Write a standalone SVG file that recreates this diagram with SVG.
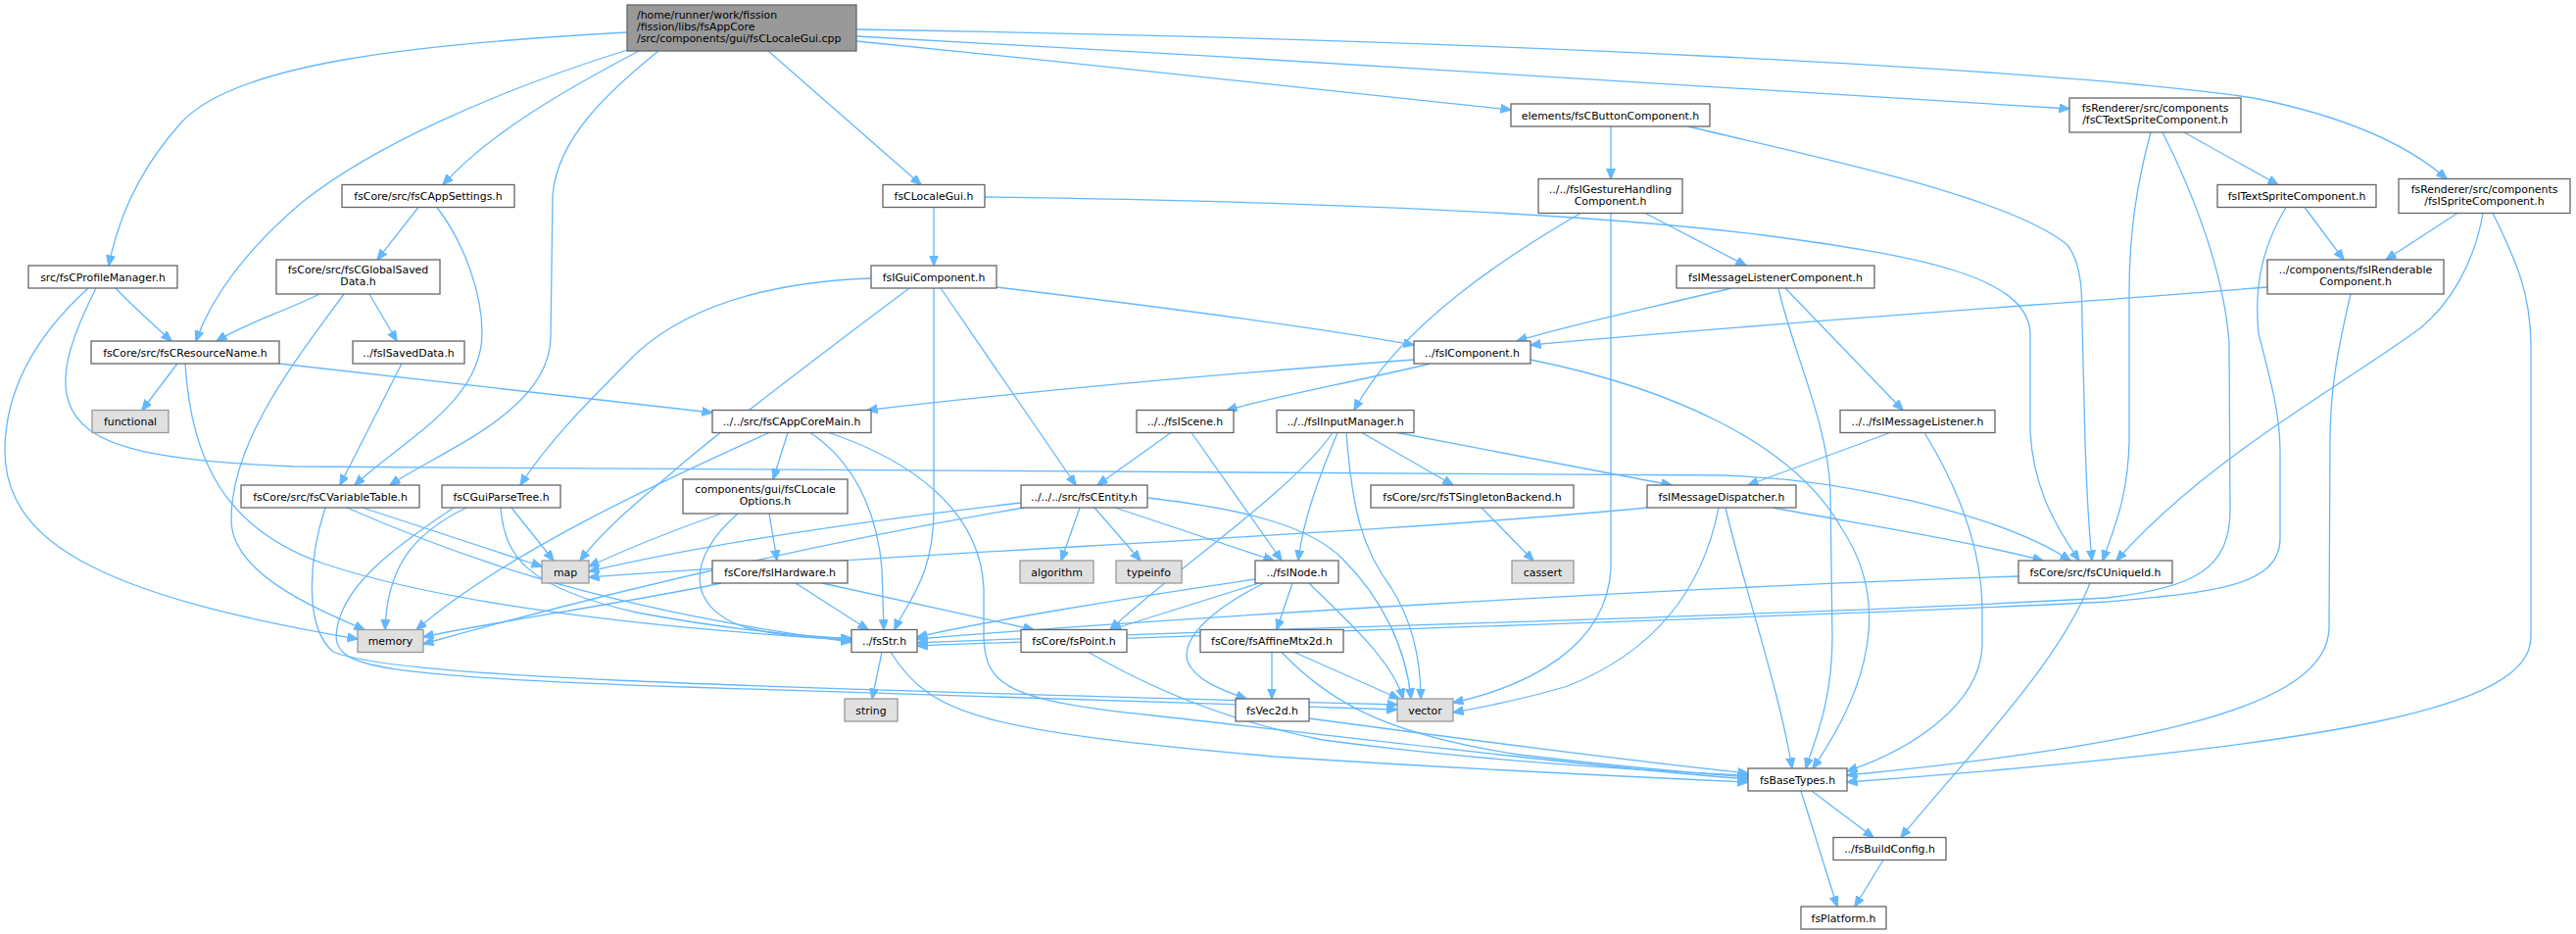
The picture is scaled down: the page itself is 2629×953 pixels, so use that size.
<svg xmlns="http://www.w3.org/2000/svg" width="2629" height="953" viewBox="0 0 2629 953">
<style>
rect{fill:#fff;stroke:#666;stroke-width:1.3}
.g rect{fill:#e0e0e0;stroke:#999}
.r rect{fill:#999;stroke:#666}
rect.bg{fill:#fff;stroke:none}
text{font-family:"DejaVu Sans","Liberation Sans",sans-serif;font-size:10.9px;fill:#000;text-anchor:middle}
.r text{text-anchor:start}
.e path{fill:none;stroke:#63b8ff;stroke-width:1.3;marker-end:url(#a)}
</style>
<defs>
<marker id="a" markerWidth="12" markerHeight="10" refX="10.5" refY="4.5" orient="auto" markerUnits="userSpaceOnUse"><path d="M0,0 L11,4.5 L0,9 z" fill="#63b8ff" stroke="#63b8ff" stroke-width="1"/></marker>
</defs>
<rect class="bg" x="0" y="0" width="2629" height="953"/>
<g class="e" id="edges">
<path d="M640,33 C420,45 240,65 185,125 C140,175 120,225 111,271"/>
<path d="M640,51 C500,95 380,150 310,205 C250,255 215,305 200,348"/>
<path d="M652,52 C580,90 500,135 452,188.5"/>
<path d="M672,52 C625,90 568,140 564,200 L562,345 C560,420 450,460 398,495"/>
<path d="M784,52 L940,188.5"/>
<path d="M874,42 C1100,65 1350,90 1542,112"/>
<path d="M874,37 C1300,60 1800,90 2112,111"/>
<path d="M874,30 C1500,40 2100,70 2300,100 C2400,120 2460,150 2497,182.5"/>
<path d="M427,211.5 L385,265"/>
<path d="M446,211.5 C475,250 492,300 492,340 C492,410 410,450 362,495"/>
<path d="M326,300 C290,318 250,330 221,348"/>
<path d="M351,300 C300,370 236,450 236,530 C236,585 320,620 372,642.5"/>
<path d="M377,300 L405,348"/>
<path d="M410,371 L347,495"/>
<path d="M118,294 C135,312 155,330 175,348"/>
<path d="M90,294 C45,335 5,390 5,460 C5,560 120,610 365,652"/>
<path d="M98,294 C75,340 60,380 70,410 C85,455 150,470 300,476 L1760,485 C1900,490 2050,530 2113,572"/>
<path d="M181,371 L145,418.5"/>
<path d="M285,371 L727,421"/>
<path d="M189,371 C195,470 230,540 330,575 C450,615 650,640 869,653"/>
<path d="M953,211.5 L953,271"/>
<path d="M1005,201 C1300,205 1600,215 1800,240 C1950,260 2070,280 2072,340 L2072,440 C2075,500 2100,540 2122,572"/>
<path d="M889,284 C780,288 700,315 650,360 C600,410 560,450 531,495"/>
<path d="M928,294 C880,330 760,420 700,470 C660,505 620,535 592,572"/>
<path d="M953,294 L953,520 C953,590 925,615 913,642.5"/>
<path d="M960,294 L1098,495"/>
<path d="M1017,293 C1200,315 1350,335 1443,352"/>
<path d="M1644,129 L1644,182.5"/>
<path d="M1723,129 C1850,160 2050,200 2110,250 C2125,270 2125,300 2125,330 L2128,450 C2130,520 2133,550 2135,572"/>
<path d="M1613,217.5 C1540,260 1430,330 1382,418.5"/>
<path d="M1644,217.5 L1644,580 C1640,660 1560,700 1483,717"/>
<path d="M1679,217.5 L1782,271"/>
<path d="M1767,294 C1680,315 1600,332 1548,348"/>
<path d="M1815,294 C1830,360 1865,430 1868,500 L1870,650 C1870,720 1850,760 1843,784"/>
<path d="M1822,294 L1942,418.5"/>
<path d="M2229,135 L2325,188.5"/>
<path d="M2195,135 C2180,190 2173,240 2173,300 L2173,450 C2172,510 2155,545 2146,572"/>
<path d="M2207,135 C2240,200 2270,280 2275,350 L2276,520 C2276,580 2240,600 2150,610 C1800,630 1300,640 936,656"/>
<path d="M2508,217.5 L2435,265"/>
<path d="M2534,217.5 C2525,270 2500,310 2470,335 C2380,400 2250,470 2160,572"/>
<path d="M2544,217.5 C2570,270 2582,300 2583,350 L2583,650 C2583,720 2400,760 1885,798"/>
<path d="M2352,211.5 L2392,265"/>
<path d="M2333,211.5 C2310,250 2300,290 2305,340 C2315,380 2327,420 2327,460 L2327,550 C2327,600 2250,605 2150,614 C1800,632 1300,645 936,659"/>
<path d="M2314,293 C2100,310 1800,330 1562,352"/>
<path d="M2399,300 C2385,360 2378,400 2378,450 L2377,640 C2377,720 2200,760 1885,791"/>
<path d="M1443,367 C1200,385 1000,405 885,418.5"/>
<path d="M1460,371 C1380,390 1300,405 1252,418.5"/>
<path d="M1562,367 C1700,395 1830,450 1880,540 C1920,600 1922,680 1850,784"/>
<path d="M804,441.5 L789,489"/>
<path d="M827,441.5 C870,470 895,520 900,580 L902,642.5"/>
<path d="M846,441.5 C930,470 1000,520 1004,600 L1004,650 C1005,700 1030,715 1176,730 C1400,755 1650,785 1784,795"/>
<path d="M785,441.5 C700,480 520,560 425,642.5"/>
<path d="M736,524 C690,540 640,560 601,578"/>
<path d="M753,524 C700,570 700,620 760,640 C800,650 840,652 869,651"/>
<path d="M785,524 L793,572"/>
<path d="M736,595 C640,615 500,635 432,650"/>
<path d="M812,595 L886,642.5"/>
<path d="M839,595 L1055,642.5"/>
<path d="M370,518 L553,578"/>
<path d="M354,518 C450,560 600,620 869,655"/>
<path d="M332,518 C315,570 310,640 340,665 C400,690 700,700 1426,719"/>
<path d="M463,518 C400,560 345,600 343,650 C345,680 380,690 700,701 L1426,724"/>
<path d="M522,518 L565,572"/>
<path d="M476,518 C420,545 395,580 393,642.5"/>
<path d="M511,518 C515,570 540,600 650,625 C730,640 800,648 869,652"/>
<path d="M1042,513 C850,535 700,560 601,583"/>
<path d="M1045,518 C800,560 600,610 432,657"/>
<path d="M1102,518 L1083,572"/>
<path d="M1117,518 L1164,572"/>
<path d="M1138,518 L1300,572"/>
<path d="M1171,508 C1280,520 1340,540 1370,570 C1410,610 1435,660 1440,713"/>
<path d="M1754,518 C1740,590 1700,660 1600,700 C1550,715 1510,722 1483,727"/>
<path d="M1195,441.5 L1120,495"/>
<path d="M1216,441.5 L1308,572"/>
<path d="M1365,441.5 C1345,490 1330,530 1325,572"/>
<path d="M1360,441.5 C1320,500 1200,580 1133,642.5"/>
<path d="M1374,441.5 C1380,520 1390,560 1420,600 C1445,640 1450,680 1450,713"/>
<path d="M1390,441.5 L1483,495"/>
<path d="M1426,441.5 L1706,495"/>
<path d="M1929,441.5 L1784,495"/>
<path d="M1964,441.5 C2000,500 2022,560 2023,620 L2023,660 C2020,720 1950,765 1885,787"/>
<path d="M1512,518 L1565,572"/>
<path d="M1681,518 C1400,545 1000,560 601,589"/>
<path d="M1761,518 C1780,600 1815,700 1829,784"/>
<path d="M1809,518 C1900,535 2000,550 2085,572"/>
<path d="M2060,588 C1700,600 1200,630 936,652"/>
<path d="M2133,595 C2100,680 2000,780 1940,854.5"/>
<path d="M1319,595 L1303,642.5"/>
<path d="M1281,591 C1150,610 1000,635 936,650"/>
<path d="M1285,595 L1134,642.5"/>
<path d="M1290,595 C1240,620 1205,650 1212,675 C1220,695 1250,705 1272,713"/>
<path d="M1336,595 C1360,620 1420,670 1432,713"/>
<path d="M900,665.5 L890,713"/>
<path d="M909,665.5 C950,730 1000,745 1300,772 C1500,785 1650,792 1784,798"/>
<path d="M1111,665.5 C1170,700 1250,735 1350,755 C1500,775 1650,785 1784,791"/>
<path d="M1298,665.5 L1298,713"/>
<path d="M1321,665.5 L1428,713"/>
<path d="M1308,665.5 C1360,720 1420,750 1550,770 C1650,782 1720,788 1784,793"/>
<path d="M1336,733 C1500,755 1650,775 1784,789"/>
<path d="M1849,807 L1912,854.5"/>
<path d="M1838,807 L1875,925"/>
<path d="M1922,877.5 L1893,925"/>
</g>
<g id="main" class="r"><rect x="640" y="5" width="234" height="47"/><text x="650" y="19">/home/runner/work/fission</text><text x="650" y="31">/fission/libs/fsAppCore</text><text x="650" y="43">/src/components/gui/fsCLocaleGui.cpp</text></g>
<g id="button"><rect x="1542" y="106" width="203" height="23"/><text x="1643.5" y="121.5">elements/fsCButtonComponent.h</text></g>
<g id="textsprite"><rect x="2112" y="100" width="175" height="35"/><text x="2199.5" y="114">fsRenderer/src/components</text><text x="2199.5" y="126">/fsCTextSpriteComponent.h</text></g>
<g id="appsettings"><rect x="349" y="188.5" width="176" height="23"/><text x="437" y="204">fsCore/src/fsCAppSettings.h</text></g>
<g id="localegui"><rect x="901" y="188.5" width="104" height="23"/><text x="953" y="204">fsCLocaleGui.h</text></g>
<g id="gesture"><rect x="1570" y="182.5" width="147" height="35"/><text x="1643.5" y="196.5">../../fsIGestureHandling</text><text x="1643.5" y="208.5">Component.h</text></g>
<g id="itextsprite"><rect x="2263" y="188.5" width="162" height="23"/><text x="2344" y="204">fsITextSpriteComponent.h</text></g>
<g id="isprite"><rect x="2448" y="182.5" width="175" height="35"/><text x="2535.5" y="196.5">fsRenderer/src/components</text><text x="2535.5" y="208.5">/fsISpriteComponent.h</text></g>
<g id="profile"><rect x="29" y="271" width="152" height="23"/><text x="105" y="286.5">src/fsCProfileManager.h</text></g>
<g id="globalsaved"><rect x="282" y="265" width="167" height="35"/><text x="365.5" y="279">fsCore/src/fsCGlobalSaved</text><text x="365.5" y="291">Data.h</text></g>
<g id="igui"><rect x="889" y="271" width="128" height="23"/><text x="953" y="286.5">fsIGuiComponent.h</text></g>
<g id="msglistcomp"><rect x="1711" y="271" width="202" height="23"/><text x="1812" y="286.5">fsIMessageListenerComponent.h</text></g>
<g id="renderable"><rect x="2314" y="265" width="180" height="35"/><text x="2404" y="279">../components/fsIRenderable</text><text x="2404" y="291">Component.h</text></g>
<g id="resname"><rect x="93" y="348" width="192" height="23"/><text x="189" y="363.5">fsCore/src/fsCResourceName.h</text></g>
<g id="isaved"><rect x="360" y="348" width="114" height="23"/><text x="417" y="363.5">../fsISavedData.h</text></g>
<g id="icomp"><rect x="1443" y="348" width="119" height="23"/><text x="1502.5" y="363.5">../fsIComponent.h</text></g>
<g id="functional" class="g"><rect x="94" y="418.5" width="78" height="23"/><text x="133" y="434">functional</text></g>
<g id="appcore"><rect x="727" y="418.5" width="162" height="23"/><text x="808" y="434">../../src/fsCAppCoreMain.h</text></g>
<g id="iscene"><rect x="1160" y="418.5" width="99" height="23"/><text x="1209.5" y="434">../../fsIScene.h</text></g>
<g id="iinput"><rect x="1303" y="418.5" width="140" height="23"/><text x="1373" y="434">../../fsIInputManager.h</text></g>
<g id="imsglist"><rect x="1878" y="418.5" width="158" height="23"/><text x="1957" y="434">../../fsIMessageListener.h</text></g>
<g id="vartable"><rect x="246" y="495" width="182" height="23"/><text x="337" y="510.5">fsCore/src/fsCVariableTable.h</text></g>
<g id="guiparse"><rect x="451" y="495" width="121" height="23"/><text x="511.5" y="510.5">fsCGuiParseTree.h</text></g>
<g id="localeopts"><rect x="697" y="489" width="168" height="35"/><text x="781" y="503">components/gui/fsCLocale</text><text x="781" y="515">Options.h</text></g>
<g id="entity"><rect x="1042" y="495" width="129" height="23"/><text x="1106.5" y="510.5">../../../src/fsCEntity.h</text></g>
<g id="singleton"><rect x="1399" y="495" width="207" height="23"/><text x="1502.5" y="510.5">fsCore/src/fsTSingletonBackend.h</text></g>
<g id="dispatcher"><rect x="1681" y="495" width="152" height="23"/><text x="1757" y="510.5">fsIMessageDispatcher.h</text></g>
<g id="map" class="g"><rect x="553" y="572" width="48" height="23"/><text x="577" y="587.5">map</text></g>
<g id="ihardware"><rect x="727" y="572" width="138" height="23"/><text x="796" y="587.5">fsCore/fsIHardware.h</text></g>
<g id="algorithm" class="g"><rect x="1041" y="572" width="75" height="23"/><text x="1078.5" y="587.5">algorithm</text></g>
<g id="typeinfo" class="g"><rect x="1139" y="572" width="67" height="23"/><text x="1172.5" y="587.5">typeinfo</text></g>
<g id="inode"><rect x="1281" y="572" width="85" height="23"/><text x="1323.5" y="587.5">../fsINode.h</text></g>
<g id="cassert" class="g"><rect x="1543" y="572" width="63" height="23"/><text x="1574.5" y="587.5">cassert</text></g>
<g id="uniqueid"><rect x="2060" y="572" width="157" height="23"/><text x="2138.5" y="587.5">fsCore/src/fsCUniqueId.h</text></g>
<g id="memory" class="g"><rect x="365" y="642.5" width="67" height="23"/><text x="398.5" y="658">memory</text></g>
<g id="fsstr"><rect x="869" y="642.5" width="67" height="23"/><text x="902.5" y="658">../fsStr.h</text></g>
<g id="fspoint"><rect x="1042" y="642.5" width="108" height="23"/><text x="1096" y="658">fsCore/fsPoint.h</text></g>
<g id="affine"><rect x="1225" y="642.5" width="146" height="23"/><text x="1298" y="658">fsCore/fsAffineMtx2d.h</text></g>
<g id="string" class="g"><rect x="862" y="713" width="54" height="23"/><text x="889" y="728.5">string</text></g>
<g id="vec2d"><rect x="1261" y="713" width="75" height="23"/><text x="1298.5" y="728.5">fsVec2d.h</text></g>
<g id="vector" class="g"><rect x="1426" y="713" width="57" height="23"/><text x="1454.5" y="728.5">vector</text></g>
<g id="basetypes"><rect x="1784" y="784" width="101" height="23"/><text x="1834.5" y="799.5">fsBaseTypes.h</text></g>
<g id="buildconfig"><rect x="1871" y="854.5" width="115" height="23"/><text x="1928.5" y="870">../fsBuildConfig.h</text></g>
<g id="platform"><rect x="1838" y="925" width="87" height="23"/><text x="1881.5" y="940.5">fsPlatform.h</text></g>
</svg>
